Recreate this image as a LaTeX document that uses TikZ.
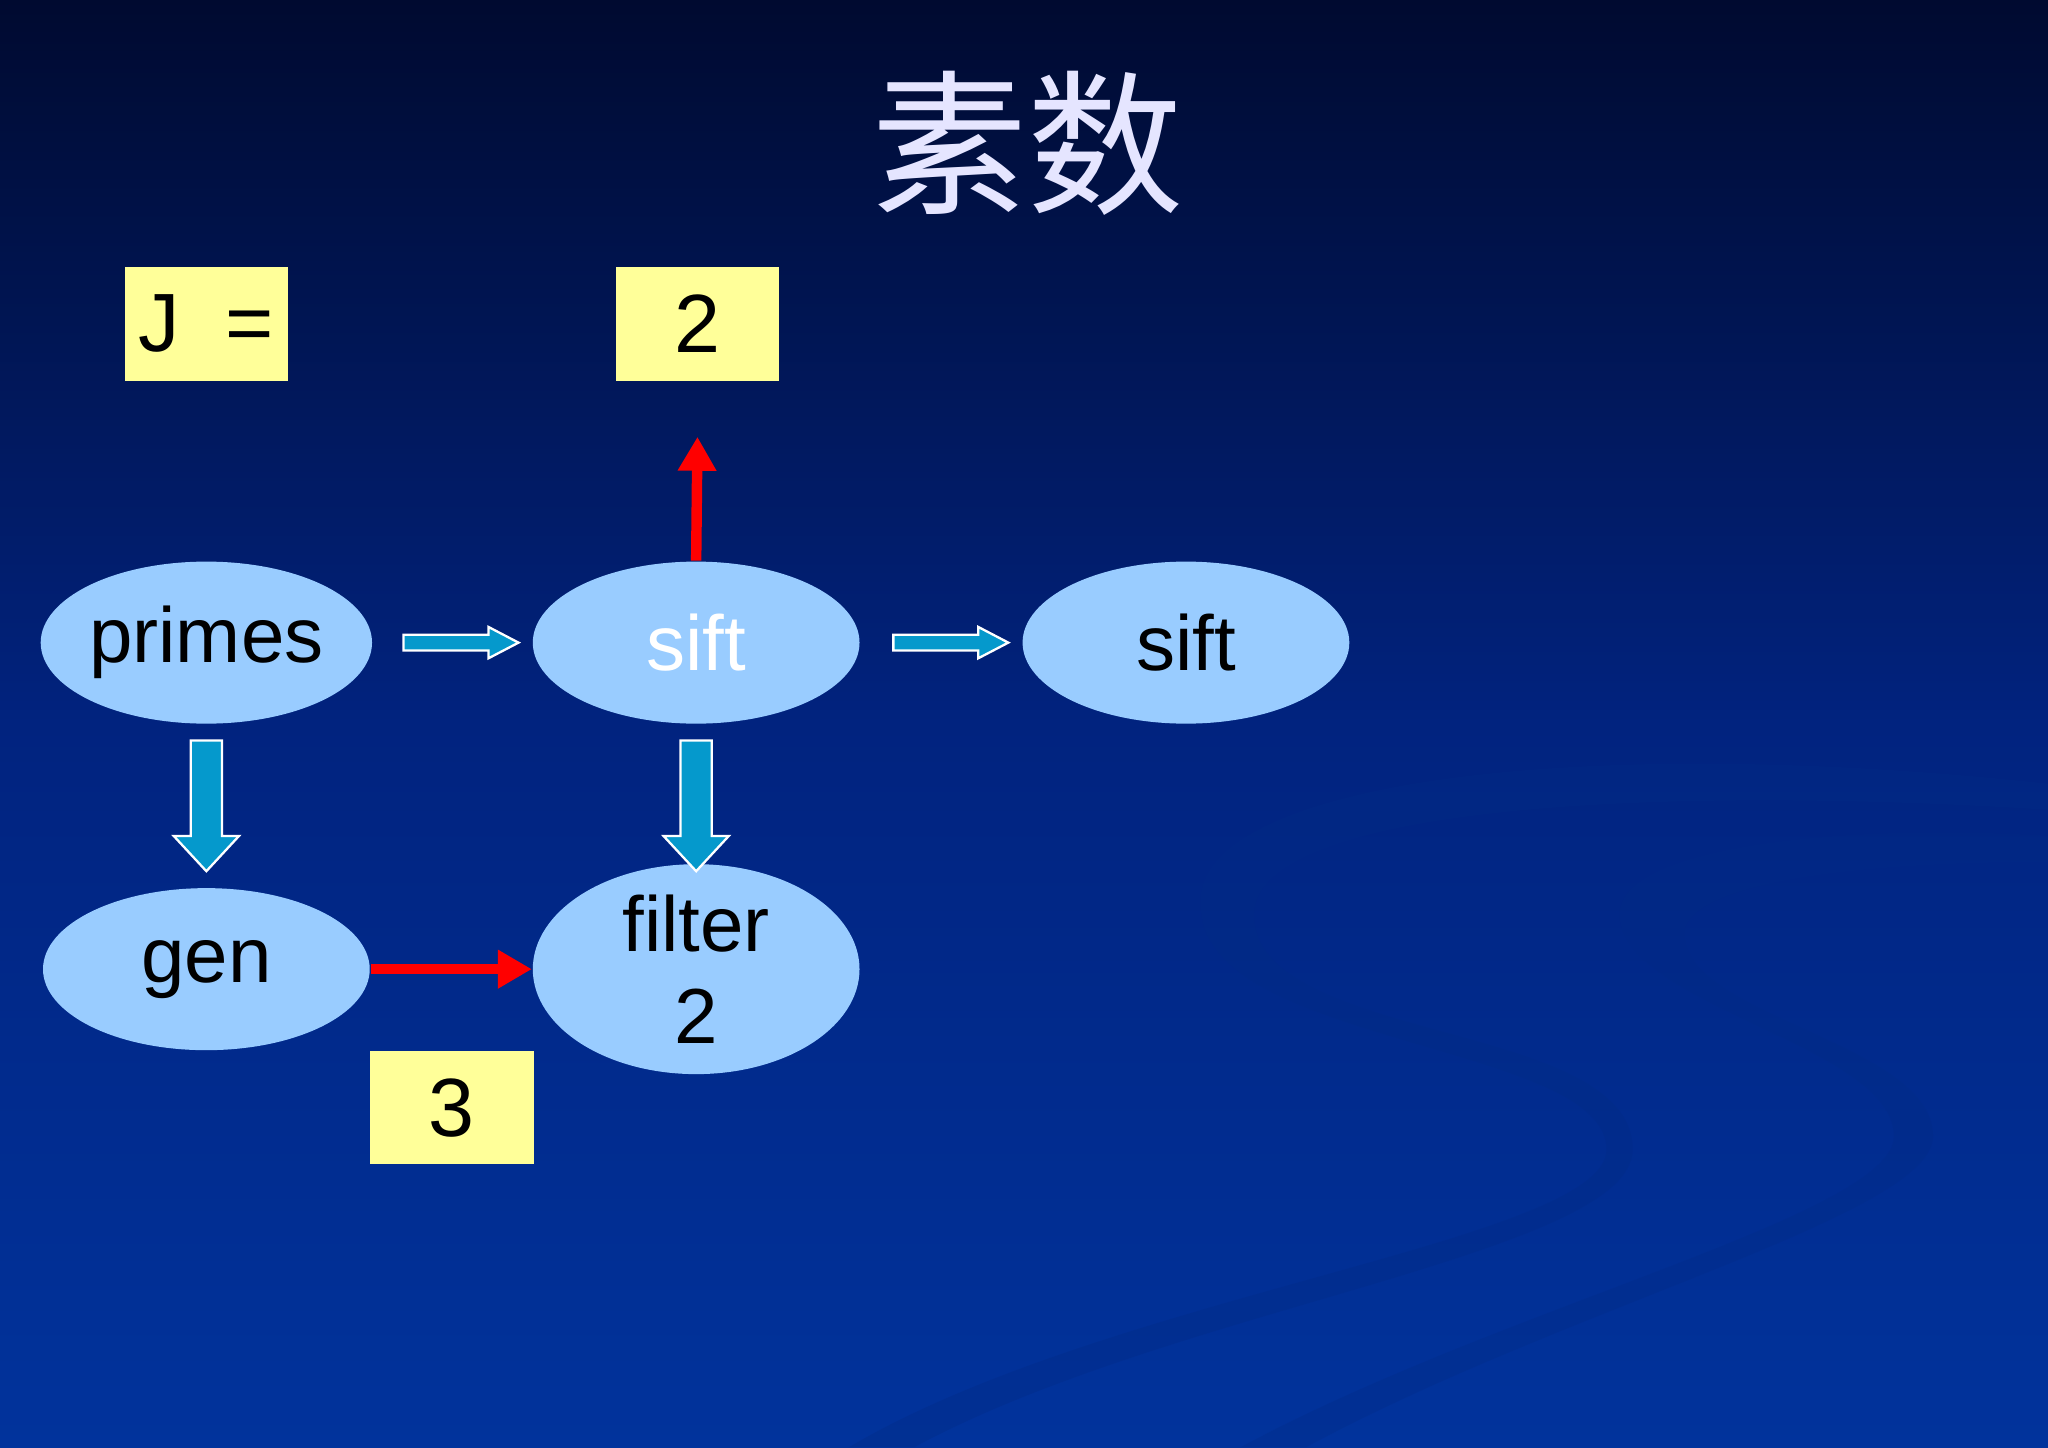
\documentclass[tikz,border=0pt]{standalone}
\usepackage{fontspec}
\setmainfont{Liberation Sans}
\newfontfamily\cjk{Noto Sans CJK SC}
\usetikzlibrary{shapes.geometric,arrows.meta}
\definecolor{bgtop}{HTML}{000A30}
\definecolor{bgmid}{HTML}{01237F}
\definecolor{bgbot}{HTML}{01339C}
\definecolor{ell}{HTML}{99CCFF}
\definecolor{boxy}{HTML}{FFFF99}
\definecolor{barrow}{HTML}{0599CC}
\begin{document}
\begin{tikzpicture}[x=0.01cm,y=-0.01cm,
  proc/.style={ellipse,fill=ell,minimum width=2.5cm,minimum height=1.24cm,inner sep=0pt,font=\fontsize{17}{18}\selectfont},
  valbox/.style={fill=boxy,minimum width=1.25cm,minimum height=0.87cm,inner sep=0pt,font=\fontsize{18}{19}\selectfont},
  redarrow/.style={draw=red,line width=0.8mm,-{Triangle[length=2.6mm,width=2.8mm]}},
  blk/.style={fill=barrow,draw=white,line width=0.5pt}]
\useasboundingbox (0,0) rectangle (1568,1108);
\fill[top color=bgtop,bottom color=bgbot,middle color=bgmid] (0,0) rectangle (1568,1108);
\fill[bgbot!85!black,opacity=0.35] (920,700) .. controls (900,600) and (1200,560) .. (1568,600) -- (1568,620) .. controls (1250,600) and (960,620) .. (960,700) .. controls (960,800) and (1250,780) .. (1250,880) .. controls (1250,960) and (900,1000) .. (700,1108) -- (650,1108) .. controls (850,990) and (1230,950) .. (1230,880) .. controls (1230,800) and (930,800) .. cycle;
\fill[bgbot!85!black,opacity=0.3] (1240,700) .. controls (1240,650) and (1400,630) .. (1568,640) -- (1568,660) .. controls (1400,660) and (1280,680) .. (1290,720) .. controls (1300,780) and (1480,800) .. (1480,870) .. controls (1480,930) and (1200,1000) .. (1000,1108) -- (950,1108) .. controls (1150,1000) and (1450,930) .. (1450,870) .. controls (1450,800) and (1240,770) .. cycle;
\node[text=white!90!blue,font=\cjk\fontsize{34}{36}\selectfont] (title) at (787,110) {素数};
\node[valbox] (j) at (158,248) {J\ \ =};
\node[valbox] (two) at (534,248) {2};
\node[valbox] (three) at (346,848) {3};
\node[proc] (primes) at (158,492) {primes};
\node[proc,text=white] (sift1) at (533,492) {sift};
\node[proc] (sift2) at (908,492) {sift};
\node[proc] (gen) at (158,742) {gen};
\node[proc,align=center,font=\fontsize{17}{20}\selectfont] (filter) at (533,742) {filter\\2};
\foreach \x in {309,684}{
  \draw[blk] (\x,486) -- (\x+65,486) -- (\x+65,480) -- (\x+88,492) -- (\x+65,504) -- (\x+65,498) -- (\x,498) -- cycle;}
\foreach \x in {158,533}{
  \draw[blk] (\x-12,567) -- (\x+12,567) -- (\x+12,640) -- (\x+25,640) -- (\x,667) -- (\x-25,640) -- (\x-12,640) -- cycle;}
\draw[redarrow] (sift1.north) -- ([yshift=-12pt]two.south);
\draw[redarrow] (gen.east) -- (filter.west);
\end{tikzpicture}
\end{document}
